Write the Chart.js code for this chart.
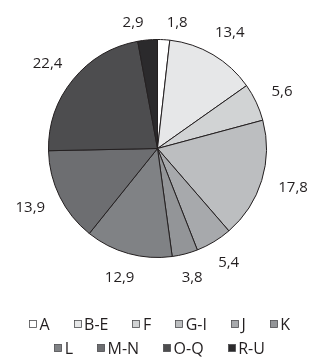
<!DOCTYPE html>
<html>
<head>
<meta charset="utf-8">
<script src="https://cdn.jsdelivr.net/npm/chart.js@4/dist/chart.umd.min.js"></script>
<style>
  html, body { margin: 0; padding: 0; background: #fff; }
  canvas { display: block; }
</style>
</head>
<body>
<canvas id="pie" width="312" height="357"></canvas>
<script>
const categories = ['A', 'B-E', 'F', 'G-I', 'J', 'K', 'L', 'M-N', 'O-Q', 'R-U'];
const shares = [1.8, 13.4, 5.6, 17.8, 5.4, 3.8, 12.9, 13.9, 22.4, 2.9];
const greys = ['#ffffff', '#e6e7e8', '#d1d3d4', '#bcbec0', '#a7a9ac',
               '#939598', '#808285', '#6d6e71', '#4d4d4f', '#2b2a2c'];

const inkColor = '#231f20';
const fontFamily = '"Open Sans", "Noto Sans", sans-serif';

function fmt(v) {
    return v.toFixed(1).replace('.', ',');
}

// values outside the slices, nudged apart when two of them collide
const outLabels = {
    id: 'outLabels',
    afterDatasetsDraw(chart) {
        const ctx = chart.ctx;
        const meta = chart.getDatasetMeta(0);
        const h = 14;
        ctx.save();
        ctx.font = '15px ' + fontFamily;
        const items = meta.data.map((arc, i) => {
            const mid = (arc.startAngle + arc.endAngle) / 2;
            const dx = Math.cos(mid), dy = Math.sin(mid);
            const text = fmt(shares[i]);
            const w = ctx.measureText(text).width;
            const r = arc.outerRadius + 18;
            let y = arc.y + dy * (r + h / 2);
            y = Math.max(y, chart.chartArea.top - 16);
            return {text: text, x: arc.x + dx * (r + w / 2), y: y, w: w};
        });
        for (let i = 0; i < items.length; i++) {
            for (let j = i + 1; j < items.length; j++) {
                const a = items[i], b = items[j];
                if (Math.abs(a.y - b.y) >= h) continue;
                const need = (a.w + b.w) / 2 + 23;
                const dist = Math.abs(a.x - b.x);
                if (dist < need) {
                    const shift = (need - dist) / 2;
                    const left = a.x <= b.x ? a : b;
                    const right = left === a ? b : a;
                    left.x -= shift;
                    right.x += shift;
                }
            }
        }
        ctx.fillStyle = inkColor;
        ctx.textAlign = 'center';
        ctx.textBaseline = 'middle';
        items.forEach(it => ctx.fillText(it.text, it.x, it.y));
        ctx.restore();
    }
};

// legend in two centred rows, small swatch tight to its text
const rowLegend = {
    id: 'rowLegend',
    afterDraw(chart) {
        const ctx = chart.ctx;
        const ds = chart.data.datasets[0];
        const box = 8, textGap = 2.5, itemGap = 24;
        const maxRow = chart.width - 36;
        ctx.save();
        ctx.font = '16px ' + fontFamily;
        const rows = [[]];
        let rowW = 0;
        chart.data.labels.forEach((lab, i) => {
            const w = box + textGap + ctx.measureText(lab).width;
            const cur = rows[rows.length - 1];
            if (cur.length && rowW + itemGap + w > maxRow) {
                rows.push([]);
                rowW = 0;
            }
            const row = rows[rows.length - 1];
            rowW += (row.length ? itemGap : 0) + w;
            row.push({i: i, lab: lab, w: w});
        });
        const cx = (chart.chartArea.left + chart.chartArea.right) / 2 + 2;
        rows.forEach((row, r) => {
            const total = row.reduce((s, it) => s + it.w, 0) + itemGap * (row.length - 1);
            let x = cx - total / 2;
            const y = chart.chartArea.bottom + 66 + r * 24;
            row.forEach(it => {
                const bx = Math.round(x) + 0.5, by = Math.round(y - box / 2) + 0.5;
                ctx.fillStyle = ds.backgroundColor[it.i];
                ctx.strokeStyle = '#4d4d4f';
                ctx.lineWidth = 0.8;
                ctx.fillRect(bx, by, box - 1, box - 1);
                ctx.strokeRect(bx, by, box - 1, box - 1);
                ctx.fillStyle = inkColor;
                ctx.textAlign = 'left';
                ctx.textBaseline = 'middle';
                ctx.fillText(it.lab, x + box + textGap, y + 1);
                x += it.w + itemGap;
            });
        });
        ctx.restore();
    }
};

new Chart(document.getElementById('pie'), {
    type: 'pie',
    data: {
        labels: categories,
        datasets: [{
            data: shares,
            backgroundColor: greys,
            borderColor: inkColor,
            borderWidth: 1
        }]
    },
    options: {
        responsive: false,
        animation: false,
        devicePixelRatio: 1,
        layout: {padding: {top: 39, bottom: 99, left: 3, right: 0}},
        plugins: {
            legend: {display: false},
            tooltip: {enabled: false}
        }
    },
    plugins: [outLabels, rowLegend]
});
</script>
</body>
</html>
